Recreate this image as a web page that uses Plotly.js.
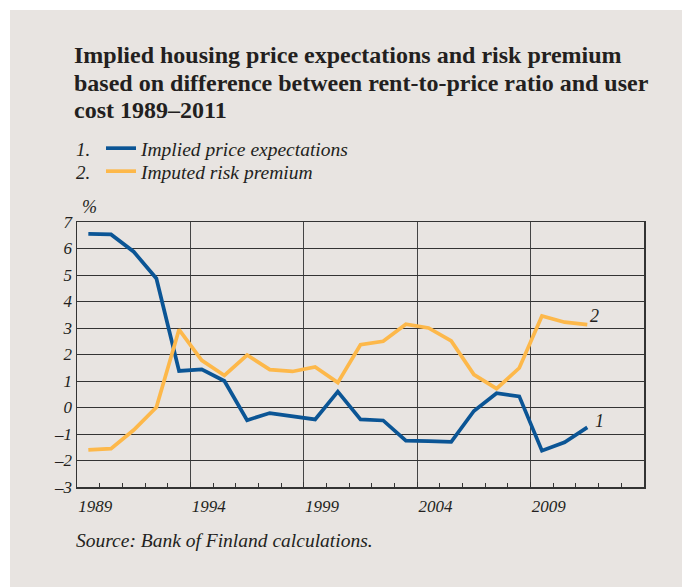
<!DOCTYPE html>
<html>
<head>
<meta charset="utf-8">
<script src="https://cdn.plot.ly/plotly-3.0.1.min.js"></script>
<style>
  html, body { margin: 0; padding: 0; background: #ffffff; }
  #chart { position: absolute; left: 10px; top: 10px; width: 672px; height: 577px; }
</style>
</head>
<body>
<div id="chart"></div>
<script>
// ---- data ----
const years = [1989,1990,1991,1992,1993,1994,1995,1996,1997,1998,1999,2000,
               2001,2002,2003,2004,2005,2006,2007,2008,2009,2010,2011];
const impliedPriceExpectations = [6.55,6.53,5.88,4.87,1.38,1.44,1.0,-0.48,-0.21,-0.32,-0.45,0.6,
               -0.45,-0.49,-1.25,-1.27,-1.3,-0.13,0.54,0.42,-1.63,-1.31,-0.75];
const imputedRiskPremium = [-1.6,-1.55,-0.85,0.01,2.94,1.78,1.21,1.98,1.43,1.36,1.53,0.94,
               2.37,2.5,3.14,3.0,2.51,1.24,0.71,1.49,3.45,3.22,3.13];
const xTickYears = [1989,1994,1999,2004,2009];
const yTickValues = [-3,-2,-1,0,1,2,3,4,5,6,7];
const yTickLabels = ['–3','–2','–1','0','1','2','3','4','5','6','7'];
const seriesNames = ['Implied price expectations','Imputed risk premium'];
const seriesNumbers = ['1.','2.'];
const titleLines = ['Implied housing price expectations and risk premium',
                    'based on difference between rent-to-price ratio and user',
                    'cost 1989–2011'];
const sourceText = 'Source: Bank of Finland calculations.';

// ---- layout geometry ----
const W = 672, H = 577, L = 67, R = 38, T = 212, B = 100;
const PW = W - L - R, PH = H - T - B;
const OFF = 10; // div offset on the page
const px = X => (X - OFF - L) / PW;           // page x -> paper x
const py = Y => (H - B - (Y - OFF)) / PH;     // page y -> paper y

const serif = '"Liberation Serif", "DejaVu Serif", serif';
const ink = '#231f20';
const blue = '#0b5595';
const orange = '#fdb84a';

const traces = [
  { x: years, y: impliedPriceExpectations, name: seriesNames[0], type: 'scatter', mode: 'lines',
    line: { color: blue, width: 3.7 }, legend: 'legend' },
  { x: years, y: imputedRiskPremium, name: seriesNames[1], type: 'scatter', mode: 'lines',
    line: { color: orange, width: 3.7 }, legend: 'legend2' }
];

const annotations = [];
titleLines.forEach((t, i) => {
  annotations.push({ text: '<b>' + t + '</b>', xref: 'paper', yref: 'paper', x: px(72), y: py([55, 82.5, 110][i]),
    xanchor: 'left', yanchor: 'middle', showarrow: false,
    font: { family: serif, size: 24, color: ink } });
});
seriesNumbers.forEach((n, i) => {
  annotations.push({ text: '<i>' + n + '</i>', xref: 'paper', yref: 'paper', x: px(74), y: py([149, 172][i]),
    xanchor: 'left', yanchor: 'middle', showarrow: false,
    font: { family: serif, size: 19, color: ink } });
});
annotations.push({ text: '<i>%</i>', xref: 'paper', yref: 'paper', x: px(80), y: py(207),
  xanchor: 'left', yanchor: 'middle', showarrow: false, font: { family: serif, size: 18, color: ink } });
annotations.push({ text: '<i>' + sourceText + '</i>', xref: 'paper', yref: 'paper', x: px(74), y: py(540),
  xanchor: 'left', yanchor: 'middle', showarrow: false, font: { family: serif, size: 19.5, color: ink } });
// end labels of lines
annotations.push({ text: '<i>1</i>', x: years[years.length - 1], y: impliedPriceExpectations[years.length - 1],
  xanchor: 'left', yanchor: 'middle', xshift: 6, yshift: 6, showarrow: false,
  font: { family: serif, size: 18, color: ink } });
annotations.push({ text: '<i>2</i>', x: years[years.length - 1], y: imputedRiskPremium[years.length - 1],
  xanchor: 'left', yanchor: 'middle', xshift: 1, yshift: 9, showarrow: false,
  font: { family: serif, size: 18, color: ink } });

const legendStyle = (topY) => ({ x: px(101), y: py(topY), xanchor: 'left', yanchor: 'top',
  bgcolor: 'rgba(0,0,0,0)', font: { family: serif, size: 19.5, color: ink, style: 'italic' },
  itemwidth: 30, tracegroupgap: 0 });

const layout = {
  width: W, height: H,
  margin: { l: L, r: R, t: T, b: B, pad: 0 },
  paper_bgcolor: '#e8e4e1',
  plot_bgcolor: '#e8e4e1',
  showlegend: true,
  legend: legendStyle(129),
  legend2: legendStyle(152),
  xaxis: {
    range: [years[0] - 0.5, years[0] + 24.5],
    tickmode: 'array', tickvals: xTickYears.map(y => y - 0.5), ticktext: xTickYears.map(String),
    ticklabelposition: 'outside right', ticklabelstandoff: 3,
    ticks: 'inside', ticklen: 5, tickcolor: '#333', tickwidth: 1,
    showgrid: true, gridcolor: '#444', gridwidth: 1,
    minor: { tickmode: 'linear', tick0: years[0] - 0.5, dtick: 1, ticks: 'inside', ticklen: 4,
             tickcolor: '#333', tickwidth: 1, showgrid: false },
    showline: true, linecolor: '#333', linewidth: 1.5, mirror: true,
    zeroline: false, fixedrange: true,
    tickfont: { family: serif, size: 17, color: ink, style: 'italic' }
  },
  yaxis: {
    range: [-3, 7],
    tickmode: 'array', tickvals: yTickValues, ticktext: yTickLabels,
    ticks: '', showgrid: true, gridcolor: '#333', gridwidth: 1,
    showline: true, linecolor: '#333', linewidth: 1.5, mirror: true,
    zeroline: false, fixedrange: true,
    tickfont: { family: serif, size: 17, color: ink, style: 'italic' }
  },
  annotations: annotations
};

Plotly.newPlot('chart', traces, layout, { displayModeBar: false, staticPlot: true });
</script>
</body>
</html>
